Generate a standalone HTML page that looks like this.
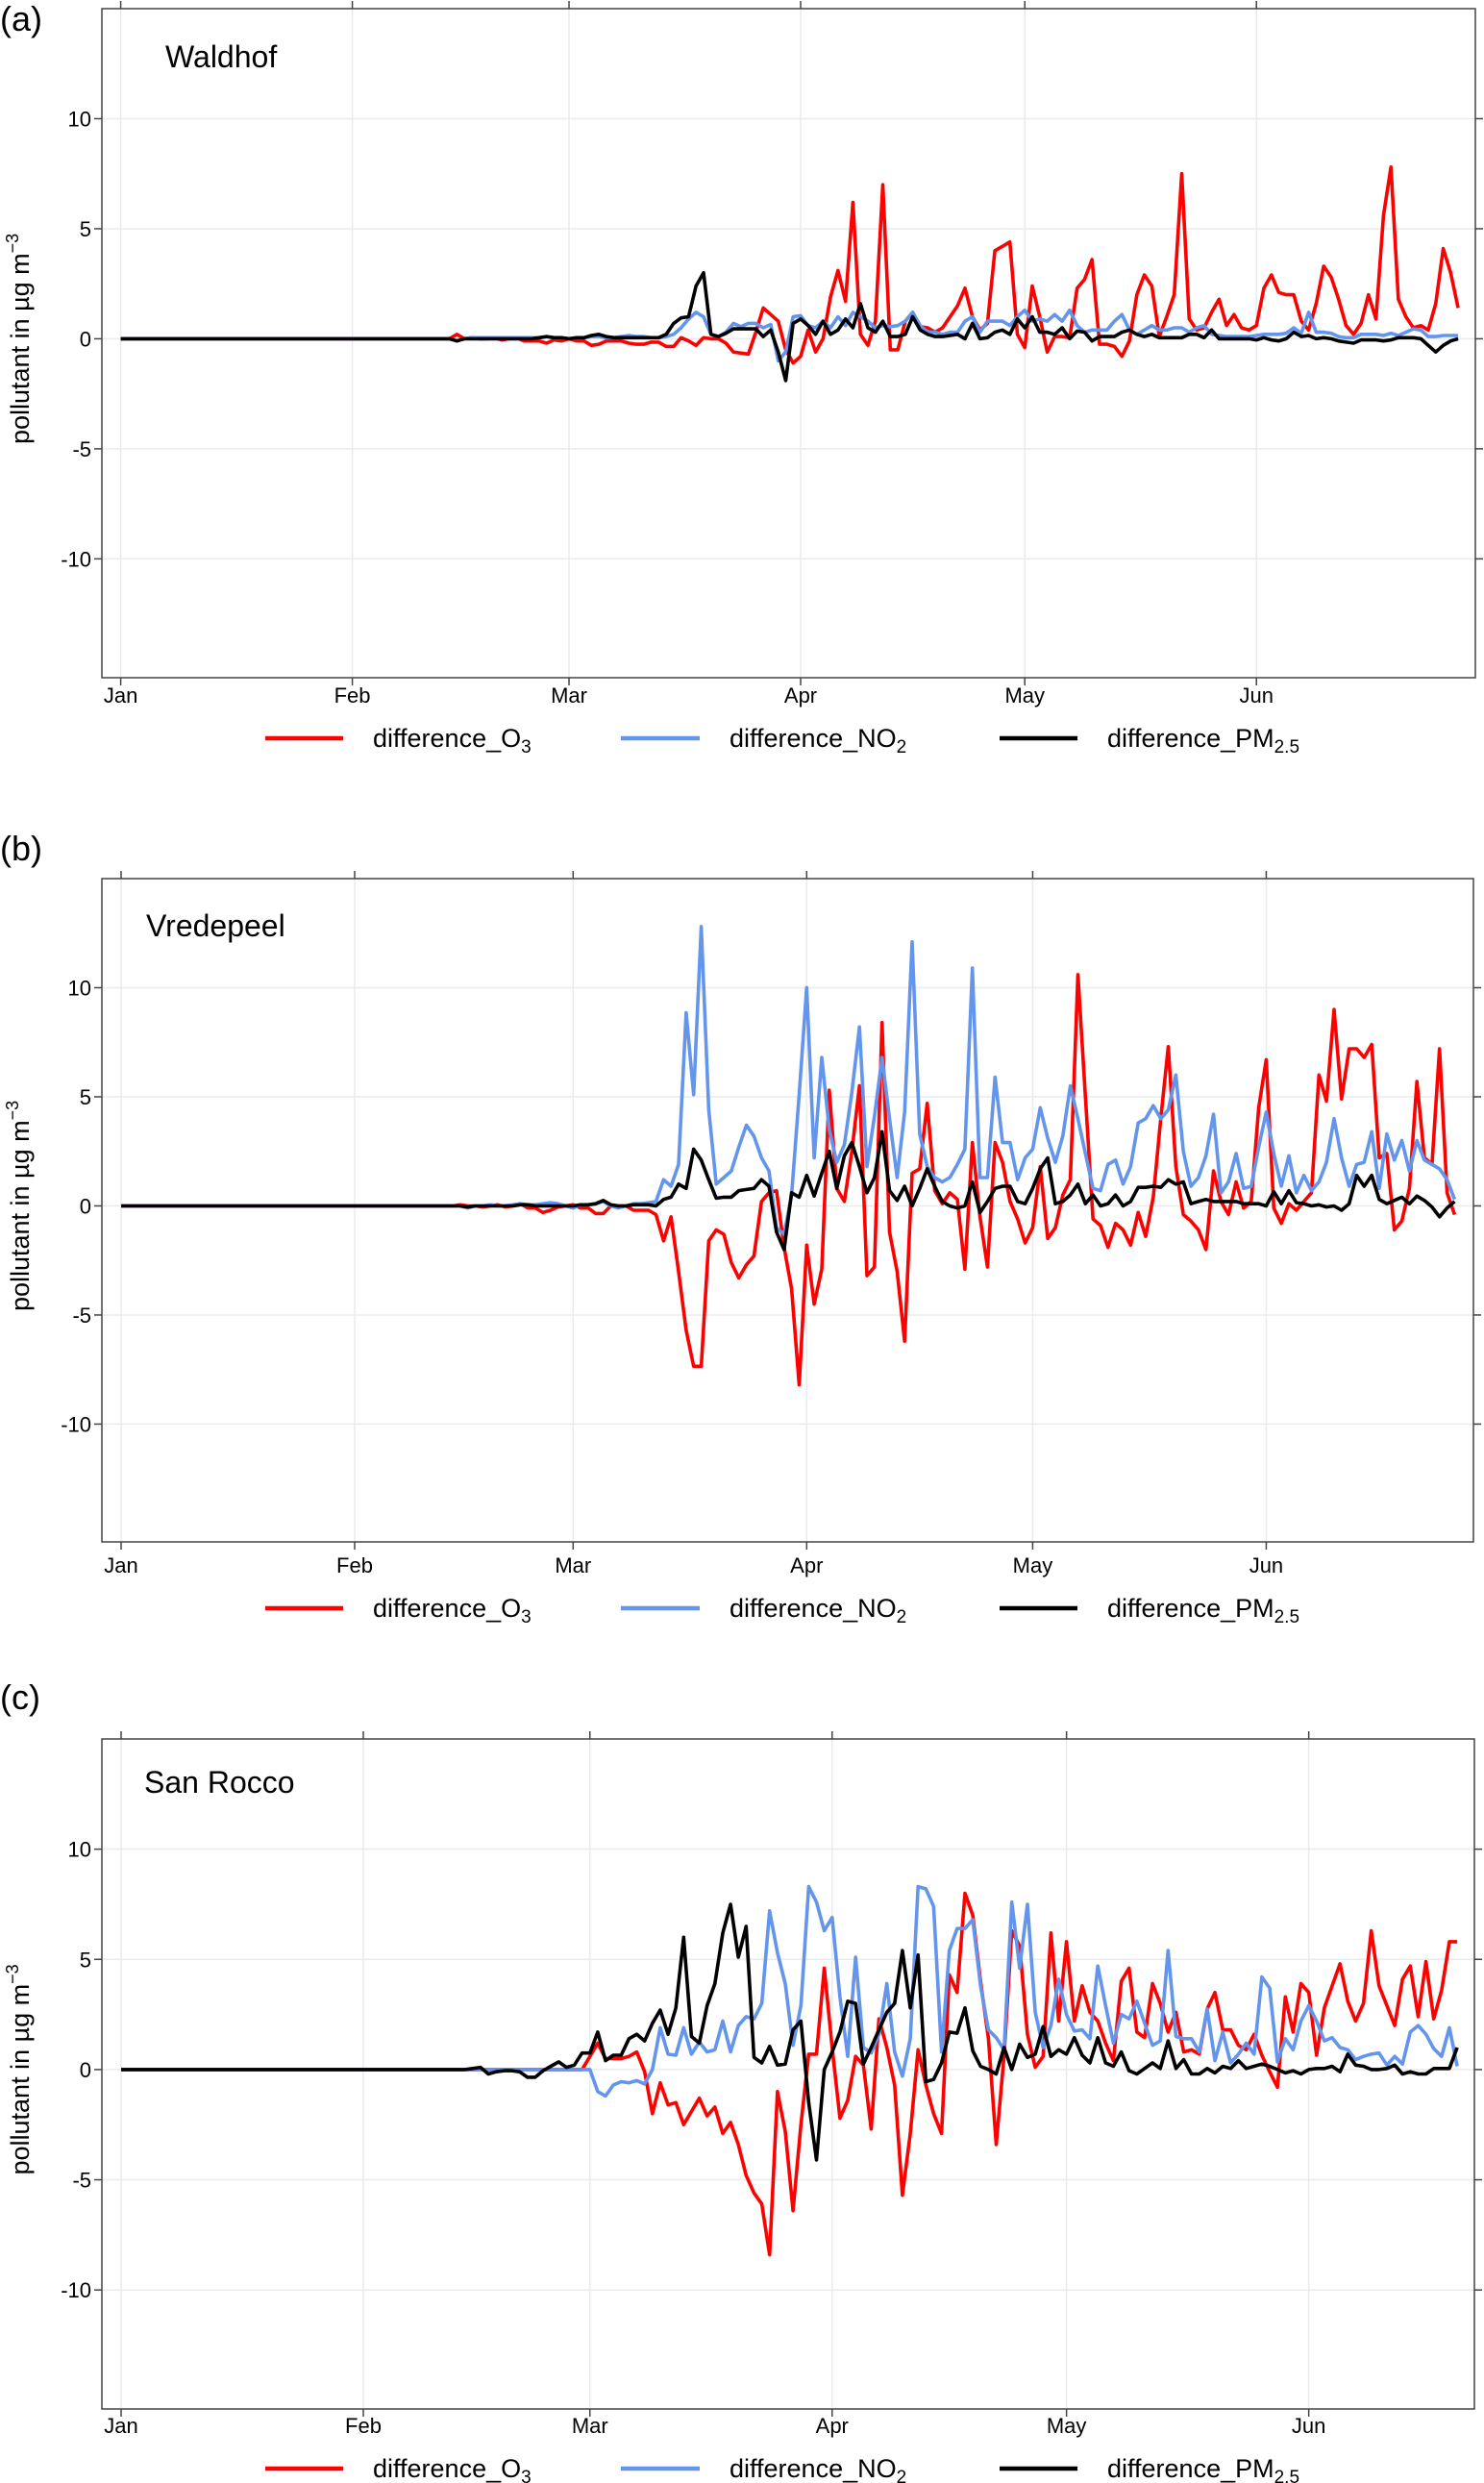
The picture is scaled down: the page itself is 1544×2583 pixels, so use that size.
<!DOCTYPE html>
<html><head><meta charset="utf-8"><title>pollutant differences</title>
<style>
html,body{margin:0;padding:0;background:#fff;}
svg{display:block;font-family:"Liberation Sans",Arial,sans-serif;}
</style></head>
<body>
<svg id="chart" width="1544" height="2583" viewBox="0 0 1544 2583" xmlns="http://www.w3.org/2000/svg"></svg>
<script>
// ---------- data ----------
const monthLabels = ["Jan","Feb","Mar","Apr","May","Jun"];
const monthDays = [0,31,60,91,121,152];
const yTicks = [-10,-5,0,5,10];
const stations = ["Waldhof","Vredepeel","San Rocco"];
const panelLetters = ["(a)","(b)","(c)"];
const startDay = 45;

const o3A = [0.2,0,0.05,0,0,0.05,-0.05,0,0.05,-0.1,-0.1,-0.1,-0.2,-0.05,-0.1,0,-0.1,-0.1,-0.3,-0.25,-0.1,-0.1,-0.1,-0.2,-0.25,-0.25,-0.15,-0.15,-0.35,-0.35,0.05,-0.1,-0.3,0.05,0,0,-0.2,-0.6,-0.65,-0.7,0.3,1.4,1.1,0.8,-0.5,-1.1,-0.8,0.4,-0.6,0,1.9,3.1,1.7,6.2,0.2,-0.3,0.8,7.0,-0.5,-0.5,0.8,1.2,0.55,0.5,0.3,0.5,1.0,1.5,2.3,1.0,0.4,0.7,4.0,4.2,4.4,0.2,-0.4,2.4,1.0,-0.6,0.1,0.1,0.05,2.3,2.7,3.6,-0.25,-0.25,-0.35,-0.8,-0.1,2.0,2.9,2.4,0.1,1.0,2.0,7.5,0.9,0.4,0.5,1.2,1.8,0.6,1.1,0.5,0.4,0.6,2.3,2.9,2.1,2.0,2.0,0.8,0.4,1.6,3.3,2.8,1.8,0.6,0.2,0.7,2.0,0.9,5.6,7.8,1.8,1.0,0.5,0.6,0.4,1.6,4.1,3.0,1.4];
const no2A = [-0.1,0,0.05,0.05,0.05,0.05,0.05,0.05,0.05,0.05,0.05,0.05,0.1,0.05,0.05,0,0.05,0.05,0.1,0.1,0.05,0.05,0.1,0.15,0.1,0.1,0.05,0.05,0.1,0.2,0.5,0.9,1.2,1.0,0.2,0.1,0.3,0.7,0.55,0.7,0.7,0.5,0.65,-1.0,-0.6,1.0,1.05,0.6,0.5,0.8,0.5,1.0,0.6,1.2,1.0,0.8,0.5,0.6,0.55,0.6,0.8,1.2,0.6,0.3,0.3,0.2,0.3,0.3,0.8,1.0,0.3,0.8,0.8,0.8,0.6,1.0,1.3,0.8,0.9,0.8,1.1,0.8,1.3,0.6,0.3,0.4,0.4,0.4,0.8,1.1,0.4,0.2,0.4,0.6,0.4,0.4,0.5,0.5,0.3,0.5,0.6,0.2,0.15,0.1,0.1,0.1,0.1,0.15,0.2,0.2,0.2,0.25,0.5,0.25,1.2,0.3,0.3,0.25,0.1,0.05,0.05,0.2,0.2,0.2,0.15,0.25,0.15,0.3,0.45,0.4,0.1,0.1,0.15,0.15,0.15];
const pmA = [-0.1,0,0,0,0,0,0,0,0,0,0,0.05,0.1,0.05,0.05,0,0.05,0.05,0.15,0.2,0.1,0.05,0.05,0.05,0.05,0.05,0.05,0.05,0.2,0.7,0.95,1.0,2.4,3.0,0.2,0.1,0.25,0.45,0.45,0.45,0.45,0.1,0.4,-0.6,-1.9,0.7,0.9,0.6,0.2,0.8,0.2,0.4,0.9,0.5,1.6,0.5,0.3,0.8,0.1,0.1,0.2,1.0,0.4,0.2,0.1,0.1,0.15,0.2,0,0.7,0,0.05,0.3,0.4,0.2,0.9,0.5,1.0,0.3,0.3,0.2,0.5,0,0.35,0.3,-0.1,0.1,0.1,0.1,0.3,0.4,0.2,0.1,0.2,0.05,0.05,0.05,0.05,0.2,0.2,0.05,0.4,0,0,0,0,0,-0.05,0.05,-0.05,-0.1,0,0.3,0.1,0.15,0,0.05,0,-0.1,-0.15,-0.2,-0.05,-0.05,-0.05,-0.1,-0.05,0.05,0.05,0.05,0,-0.3,-0.6,-0.3,-0.1,0];

const o3B = [0.05,0,0,-0.05,0,0.05,-0.05,0,0.1,-0.1,-0.1,-0.3,-0.2,-0.05,0,0.05,-0.1,-0.1,-0.35,-0.35,0,0,0,-0.2,-0.2,-0.2,-0.4,-1.6,-0.5,-3.0,-5.7,-7.35,-7.35,-1.6,-1.1,-1.3,-2.6,-3.3,-2.7,-2.3,0.2,0.6,0.7,-1.9,-3.8,-8.2,-1.8,-4.5,-2.9,5.3,0.8,0.2,2.5,5.5,-3.2,-2.8,8.4,-1.2,-3.0,-6.2,1.5,1.7,4.7,0.7,0.1,0.6,0.3,-2.9,2.9,-0.5,-2.8,2.9,2.0,0.2,-0.6,-1.7,-1.0,1.8,-1.5,-1.0,0.5,1.2,10.6,5.0,-0.6,-0.9,-1.9,-0.8,-1.1,-1.8,-0.3,-1.4,0.4,4.0,7.3,1.8,-0.4,-0.7,-1.1,-2.0,1.6,0.2,-0.4,1.1,-0.1,0.2,4.5,6.7,-0.1,-0.8,0.1,-0.2,0.2,0.6,6.0,4.8,9.0,4.9,7.2,7.2,6.8,7.4,2.2,2.4,-1.1,-0.7,0.8,5.7,2.2,1.9,7.2,0.6,-0.4];
const no2B = [0,-0.1,0,0,0.05,0,0,0.05,0.1,0.05,0.05,0.1,0.15,0.1,0,-0.1,0.05,0.05,0.1,0.2,0,-0.1,0,0.1,0.1,0.15,0.2,1.2,0.9,1.9,8.85,5.1,12.8,4.4,1.0,1.3,1.6,2.7,3.7,3.2,2.2,1.6,-1.0,-1.3,0.5,5.1,10.0,2.2,6.8,3.5,2.0,2.8,5.2,8.2,1.8,4.1,6.8,4.0,1.3,4.3,12.1,3.3,1.8,1.3,1.1,1.3,1.9,2.6,10.9,1.3,1.3,5.9,2.9,2.9,1.2,2.2,2.6,4.5,3.1,2.0,3.2,5.5,4.0,2.4,0.8,0.7,1.9,2.1,1.0,1.8,3.8,4.0,4.6,4.0,4.4,6.0,2.5,0.9,1.3,2.3,4.2,0.6,1.1,2.4,0.8,0.9,2.7,4.3,2.4,0.9,2.3,0.6,1.4,0.7,1.1,2.0,4.0,2.2,0.9,1.9,2.0,3.4,0.8,3.3,2.1,3.0,1.6,3.0,2.1,1.9,1.7,1.2,0.3];
const pmB = [0,-0.05,0,0,0,0,0,0,0.05,0.05,0,0,0,0,0,0,0.05,0.05,0.1,0.25,0.05,0,0,0.05,0.05,0.05,0,0.3,0.4,1.0,0.8,2.6,2.1,1.2,0.35,0.4,0.4,0.7,0.75,0.8,1.2,0.9,-1.2,-2.0,0.6,0.4,1.4,0.45,1.5,2.5,0.8,2.3,2.9,1.8,0.6,1.3,3.4,0.7,0.25,0.9,0,0.8,1.7,0.9,0.2,0,-0.1,0,1.1,-0.3,0.2,0.8,0.9,0.9,0.2,0.1,0.8,1.7,2.2,0.1,0.2,0.5,1.0,0.1,0.5,0,0.1,0.5,0,0.2,0.85,0.85,0.9,0.85,1.2,1.0,1.1,0.1,0.2,0.3,0.2,0.2,0.2,0.2,0.1,0.1,0.1,0,0.65,0.1,0.7,0.15,0.1,0,0.05,-0.05,0,-0.2,0.1,1.4,0.9,1.4,0.3,0.1,0.25,0.4,0.1,0.45,0.25,-0.05,-0.5,-0.1,0.2];

const o3C = [0,0,0,0,0,0,0,0,0,0,0,0,0,0,0,0.6,1.2,0.5,0.5,0.5,0.6,0.8,-0.1,-2.0,-0.6,-1.6,-1.5,-2.5,-1.9,-1.3,-2.1,-1.7,-2.9,-2.4,-3.4,-4.8,-5.6,-6.1,-8.4,-1.0,-2.8,-6.4,-2.5,0.7,0.7,4.6,1.0,-2.2,-1.4,0.6,0.2,-2.7,2.3,1.0,-0.7,-5.7,-2.9,0.9,-0.7,-2.0,-2.9,4.3,3.5,8.0,7.0,4.0,1.4,-3.4,0.6,6.3,5.6,1.6,0.1,0.6,6.2,2.2,5.8,2.2,3.8,2.6,2.2,1.2,0.4,4.0,4.6,1.7,1.45,3.9,3.0,1.7,2.6,0.8,0.9,0.7,2.75,3.5,1.8,1.8,1.1,0.9,1.6,0.65,-0.1,-0.8,3.3,1.7,3.9,3.5,0.65,2.8,3.8,4.8,3.1,2.2,3.0,6.3,3.8,2.9,2.0,4.1,4.7,2.4,4.9,2.3,3.6,5.8,5.8];
const no2C = [0,0,0,0,0,0,0,0,0,0,0,0,0,0,0,0,-1.0,-1.2,-0.7,-0.55,-0.6,-0.5,-0.65,0,1.9,0.7,0.65,1.9,0.7,1.25,0.8,0.9,2.2,0.8,2.0,2.4,2.3,3.0,7.2,5.3,3.9,1.1,2.9,8.3,7.6,6.3,6.9,3.3,0.6,5.1,1.0,0.75,1.6,3.9,0.8,-0.3,1.4,8.3,8.2,7.4,0.8,5.4,6.4,6.4,6.8,3.8,1.8,1.45,0.9,7.6,4.6,7.5,2.6,1.0,2.0,4.1,2.5,1.75,1.8,1.4,4.7,2.9,1.2,2.5,2.3,3.1,2.1,1.1,1.3,5.4,1.5,1.4,1.4,0.8,2.75,0.4,1.7,0.3,0.7,1.2,0.7,4.2,3.7,0.35,1.4,0.9,2.2,2.9,2.2,1.3,1.45,1.0,0.9,0.45,0.6,0.7,0.75,0.2,0.6,0.25,1.7,2.0,1.6,0.95,0.6,1.9,0.15];
const pmC = [0.05,0.1,-0.2,-0.1,-0.05,-0.05,-0.1,-0.35,-0.35,-0.05,0.15,0.35,0.1,0.2,0.75,0.75,1.7,0.4,0.65,0.65,1.4,1.6,1.3,2.1,2.7,1.6,2.8,6.0,1.5,1.2,2.9,3.9,6.2,7.5,5.1,6.5,0.55,0.3,1.05,0.2,0.25,1.8,2.2,-1.5,-4.1,0,0.8,1.7,3.1,3.0,0.25,1.0,1.8,2.6,3.0,5.4,2.8,5.2,-0.55,-0.45,0.3,1.7,1.65,2.8,0.85,0.15,0,-0.2,1.0,0,1.15,0.55,0.7,1.95,0.6,0.9,0.7,1.45,0.65,0.3,1.45,0.3,0.15,0.8,-0.05,-0.2,0.05,0.3,0.05,1.3,0.05,0.45,-0.2,-0.2,0.05,-0.15,0.15,0.05,0.4,0.05,0.15,0.25,0.15,0,-0.15,-0.05,-0.2,0,0.05,0.05,0.15,-0.1,0.7,0.2,0.15,0,0,0.05,0.2,-0.2,-0.1,-0.2,-0.2,0.05,0.05,0.05,1.0];

// ---------- layout ----------
const svgNS = "http://www.w3.org/2000/svg";
const svg = document.getElementById('chart');
const panels = [
  {top:9, bottom:705, left:106, right:1535, dmin:-2.52, dmax:181.3, series:[o3A,no2A,pmA]},
  {top:914, bottom:1604, left:106, right:1533, dmin:-2.55, dmax:179.5, series:[o3B,no2B,pmB]},
  {top:1809, bottom:2506, left:106, right:1534, dmin:-2.46, dmax:173.2, series:[o3C,no2C,pmC]}
];
const yMin = -15.4, yMax = 15;
const colors = ["#ff0000","#6495ed","#000000"];
const seriesNames = ["o3","no2","pm25"];

function el(tag, attrs, parent){
  const e = document.createElementNS(svgNS, tag);
  for (const k in attrs) e.setAttribute(k, attrs[k]);
  (parent||svg).appendChild(e);
  return e;
}

panels.forEach((p, pi) => {
  const xs = d => p.left + (d - p.dmin) / (p.dmax - p.dmin) * (p.right - p.left);
  const ys = v => p.bottom - (v - yMin) / (yMax - yMin) * (p.bottom - p.top);
  const g = el('g', {});
  
  

  monthDays.forEach((d, i) => {
    const l = el('line', {x1:xs(d), x2:xs(d), y1:p.top, y2:p.bottom, stroke:'#ebebeb', 'stroke-width':1.5}, g);
    
    
  });
  yTicks.forEach(v => {
    const l = el('line', {x1:p.left, x2:p.right, y1:ys(v), y2:ys(v), stroke:'#ebebeb', 'stroke-width':1.5}, g);
    
    
  });

  p.series.forEach((arr, si) => {
    let dstr = 'M' + xs(0).toFixed(1) + ' ' + ys(0).toFixed(1) + 'L' + xs(startDay - 1).toFixed(1) + ' ' + ys(0).toFixed(1);
    arr.forEach((v, i) => {
      const d = startDay + i;
      dstr += 'L' + xs(d).toFixed(1) + ' ' + ys(v).toFixed(1);
    });
    const path = el('path', {d: dstr, fill:'none', stroke:colors[si], 'stroke-width':3.6, 'stroke-linejoin':'round'}, g);
    
    
  });

  const fr = el('rect', {x:p.left, y:p.top, width:p.right - p.left, height:p.bottom - p.top, fill:'none', stroke:'#444', 'stroke-width':1.5}, g);
  
  

  monthDays.forEach((d, i) => {
    el('line', {x1:xs(d), x2:xs(d), y1:p.bottom, y2:p.bottom + 8, stroke:'#444', 'stroke-width':1.5}, g);
    el('line', {x1:xs(d), x2:xs(d), y1:p.top, y2:p.top - 8, stroke:'#444', 'stroke-width':1.5}, g);
    const t = el('text', {x:xs(d), y:p.top + 722, 'font-size':22, 'text-anchor':'middle', fill:'#000'}, g);
    t.textContent = monthLabels[i];
    
    
  });
  yTicks.forEach(v => {
    el('line', {x1:p.left - 8, x2:p.left, y1:ys(v), y2:ys(v), stroke:'#444', 'stroke-width':1.5}, g);
    el('line', {x1:p.right, x2:p.right + 8, y1:ys(v), y2:ys(v), stroke:'#444', 'stroke-width':1.5}, g);
    const t = el('text', {x:95, y:ys(v) + 8, 'font-size':22, 'text-anchor':'end', fill:'#000'}, g);
    t.textContent = String(v);
    
    
  });

  const y0 = ys(0);
  const yt = el('text', {x:0, y:0, 'font-size':27, 'text-anchor':'middle', fill:'#000', transform:'translate(30,' + y0 + ') rotate(-90)'}, g);
  
  
  yt.appendChild(document.createTextNode('pollutant in µg m'));
  const sup = el('tspan', {dy:-11, 'font-size':18}, yt);
  sup.textContent = '−3';

  const st = el('text', {x:[172,152,150][pi], y:p.top + [61,60,56][pi], 'font-size':32, fill:'#000'}, g);
  st.textContent = stations[pi];
  
  

  const pl = el('text', {x:0, y:[32,895,1778][pi], 'font-size':36, fill:'#000'}, g);
  pl.textContent = panelLetters[pi];
  
  

  const ly = p.top + 759;
  const legendItems = [
    {x1:276, x2:357, tx:388, base:'difference_O', sub:'3'},
    {x1:646, x2:728, tx:759, base:'difference_NO', sub:'2'},
    {x1:1040, x2:1121, tx:1152, base:'difference_PM', sub:'2.5'}
  ];
  legendItems.forEach((it, si) => {
    const lg = el('g', {}, g);
    
    
    el('line', {x1:it.x1, x2:it.x2, y1:ly, y2:ly, stroke:colors[si], 'stroke-width':4.5}, lg);
    const t = el('text', {x:it.tx, y:ly + 9, 'font-size':27, fill:'#000'}, lg);
    t.appendChild(document.createTextNode(it.base));
    const sb = el('tspan', {dy:6, 'font-size':19}, t);
    sb.textContent = it.sub;
  });
});
</script>
</body></html>
